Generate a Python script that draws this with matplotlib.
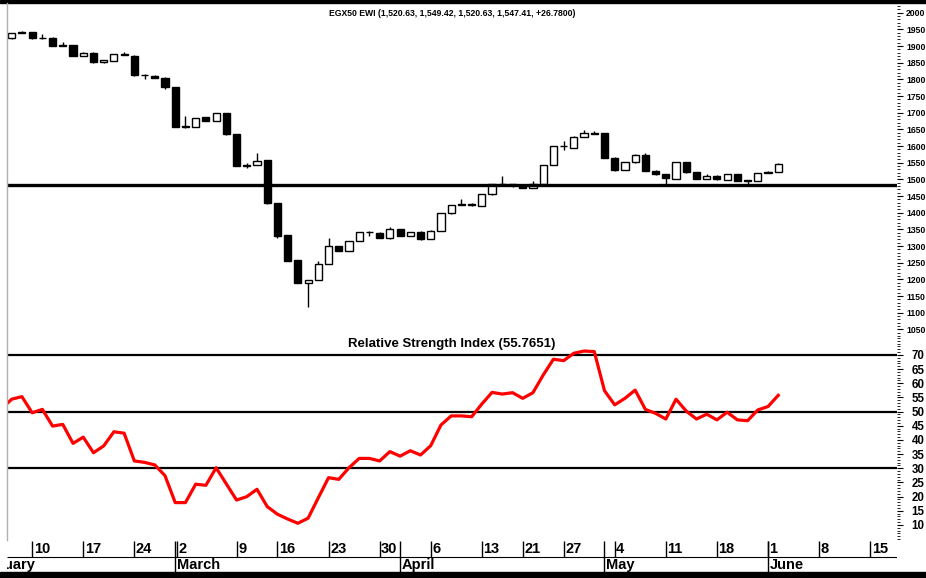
import matplotlib
matplotlib.use('Agg')
import matplotlib.pyplot as plt
import numpy as np
from matplotlib.lines import Line2D
from matplotlib.patches import Rectangle

plt.rcParams['font.family'] = ['Liberation Sans', 'DejaVu Sans']

# daily candles, 6 Feb 2020 -> 2 Jun 2020 (EGX trading days)
opens = [1923, 1939, 1942, 1925, 1925, 1902, 1903, 1871, 1880, 1851, 1855, 1873, 1871, 1814, 1811, 1805,
         1776, 1660, 1658, 1686, 1675, 1698, 1635, 1542, 1543, 1558, 1428, 1332, 1258, 1190, 1198, 1246,
         1300, 1285, 1315, 1343, 1340, 1323, 1351, 1331, 1343, 1321, 1346, 1398, 1424, 1425, 1421, 1455,
         1484, 1486, 1484, 1475, 1486, 1543, 1601, 1595, 1628, 1637, 1638, 1565, 1528, 1551, 1573, 1526,
         1515, 1501, 1551, 1521, 1501, 1510, 1498, 1515, 1497, 1495, 1519, 1520.63]
highs = [1940, 1946, 1943, 1935, 1926, 1911, 1904, 1881, 1881, 1859, 1876, 1883, 1872, 1815, 1813, 1806,
         1777, 1690, 1685, 1687, 1700, 1699, 1636, 1548, 1578, 1559, 1429, 1333, 1259, 1199, 1256, 1324,
         1301, 1316, 1342, 1346, 1341, 1358, 1352, 1343, 1344, 1347, 1399, 1424, 1440, 1429, 1456, 1486,
         1509, 1487, 1486, 1494, 1544, 1601, 1616, 1629, 1648, 1645, 1640, 1566, 1553, 1575, 1580, 1528,
         1516, 1552, 1553, 1522, 1516, 1512, 1517, 1516, 1498, 1519, 1524, 1549.42]
lows = [1921, 1938, 1920, 1922, 1900, 1899, 1869, 1870, 1849, 1850, 1854, 1872, 1811, 1800, 1803, 1770,
        1656, 1655, 1656, 1674, 1674, 1633, 1539, 1535, 1542, 1426, 1323, 1254, 1188, 1118, 1197, 1245,
        1284, 1284, 1314, 1330, 1324, 1322, 1330, 1330, 1319, 1320, 1345, 1397, 1423, 1419, 1420, 1454,
        1483, 1477, 1474, 1474, 1485, 1542, 1588, 1594, 1627, 1636, 1564, 1526, 1527, 1550, 1525, 1512,
        1486, 1500, 1520, 1500, 1500, 1499, 1497, 1494, 1486, 1494, 1518, 1520.63]
closes = [1938, 1943, 1923, 1923, 1901, 1900, 1871, 1880, 1851, 1858, 1875, 1876, 1813, 1812, 1805, 1776,
          1658, 1658, 1683, 1676, 1698, 1635, 1541, 1540, 1556, 1428, 1330, 1256, 1190, 1198, 1246, 1300,
          1285, 1315, 1341, 1342, 1325, 1352, 1331, 1342, 1321, 1346, 1398, 1423, 1426, 1423, 1455, 1485,
          1487, 1484, 1475, 1486, 1543, 1600, 1599, 1628, 1638, 1639, 1565, 1528, 1551, 1573, 1526, 1515,
          1503, 1551, 1522, 1501, 1510, 1501, 1515, 1496, 1496, 1518, 1521, 1547.41]

# RSI, first value belongs to the day before the first candle
rsi = [51.0, 54.4, 55.3, 49.6, 50.8, 44.9, 45.5, 38.8, 41.0, 35.5, 37.9, 42.9, 42.4, 32.6, 32.1, 31.2,
       27.4, 17.9, 17.9, 24.4, 24.0, 30.2, 24.5, 18.8, 20.0, 22.6, 16.5, 13.8, 12.1, 10.6, 12.4, 19.6,
       26.7, 26.1, 30.2, 33.5, 33.5, 32.6, 35.9, 34.3, 36.2, 34.7, 38.0, 45.3, 48.5, 48.5, 48.2, 52.7,
       56.8, 56.2, 56.7, 54.7, 56.7, 62.9, 68.5, 68.0, 70.6, 71.4, 71.2, 57.4, 52.4, 54.7, 57.6, 50.8,
       49.4, 47.4, 54.4, 50.2, 47.4, 49.1, 47.1, 49.8, 47.1, 46.8, 50.6, 51.8, 55.7651]

support = 1483
rsi_levels = [70, 50, 30]

week_labels = ['10', '17', '24', '2', '9', '16', '23', '30', '6', '13', '21', '27', '4', '11', '18', '1', '8', '15']
week_pos = [2, 7, 12, 16.2, 22, 26, 31, 36, 41, 46, 50, 54, 59, 64, 69, 74, 79, 84]
month_labels = ['February', 'March', 'April', 'May', 'June']
month_pos = [-4, 16, 38, 58, 74]

title = 'EGX50 EWI (1,520.63, 1,549.42, 1,520.63, 1,547.41, +26.7800)'
rsi_title = 'Relative Strength Index (55.7651)'

W, H = 926, 578
fig = plt.figure(figsize=(W / 100, H / 100), dpi=100)


def box(x0, y0, x1, y1):
    return [x0 / W, 1 - y1 / H, (x1 - x0) / W, (y1 - y0) / H]


xlim = (-0.46, 86.62)
ax = fig.add_axes(box(7, 4, 897, 336))
ax_r = fig.add_axes(box(7, 336, 897, 540))
ax_d = fig.add_axes(box(7, 540, 897, 572))

# candles
o = np.array(opens)
h = np.array(highs)
l = np.array(lows)
c = np.array(closes)
x = np.arange(len(o))
up = c >= o
ax.vlines(x, l, h, color='black', lw=1, zorder=2)
ax.bar(x, np.maximum(np.abs(c - o), 1.5), bottom=np.minimum(o, c), width=0.7,
       color=np.where(up, 'white', 'black'), edgecolor='black', linewidth=1, zorder=3)
ax.axhline(support, color='black', lw=2.4, zorder=4)

ax.set_xlim(*xlim)
ax.set_ylim(1030, 2026)
ax.yaxis.tick_right()
ax.set_yticks(np.arange(1050, 2001, 50))
ax.set_yticks(np.arange(1030, 2027, 10), minor=True)
ax.tick_params(axis='y', which='major', length=4, width=0.8, pad=2.5, labelsize=6.2)
ax.tick_params(axis='y', which='minor', length=2.5, width=0.6)
ax.set_xticks([])
for t in ax.get_yticklabels():
    t.set_fontweight('bold')
for s in ax.spines.values():
    s.set_visible(False)

# RSI
ax_r.plot(np.arange(-1, len(rsi) - 1), rsi, color='#ff0000', lw=2.3, zorder=3)
for lev in rsi_levels:
    ax_r.axhline(lev, color='black', lw=1.6, zorder=2)
ax_r.set_xlim(*xlim)
ax_r.set_ylim(4.7, 76.7)
ax_r.yaxis.tick_right()
ax_r.set_yticks(np.arange(10, 71, 5))
ax_r.set_yticks(np.arange(5, 77, 1), minor=True)
ax_r.tick_params(axis='y', which='major', length=4, width=0.8, pad=6.5, labelsize=8.3)
ax_r.tick_params(axis='y', which='minor', length=2.5, width=0.6)
ax_r.set_xticks([])
for t in ax_r.get_yticklabels():
    t.set_fontweight('bold')
for s in ax_r.spines.values():
    s.set_visible(False)

# date rows
ax_d.set_xlim(*xlim)
ax_d.set_ylim(32, 0)
ax_d.axis('off')
ax_d.hlines(17, xlim[0], xlim[1], color='black', lw=0.8)
ax_d.vlines(week_pos, 1, 17, color='black', lw=1)
ax_d.vlines(month_pos, 1, 32, color='black', lw=1)
for lab, p in zip(week_labels, week_pos):
    ax_d.text(p + 0.15, 9.3, lab, fontsize=10.5, fontweight='bold', ha='left', va='center', clip_on=True)
for lab, p in zip(month_labels, month_pos):
    ax_d.text(p + 0.15, 24.8, lab, fontsize=10.5, fontweight='bold', ha='left', va='center', clip_on=True)

# titles and frame
fig.text(452 / W, 1 - 13 / H, title, fontsize=6.2, fontweight='bold', ha='center', va='center')
fig.text(452 / W, 1 - 344.5 / H, rsi_title, fontsize=9.5, fontweight='bold', ha='center', va='center')
fig.add_artist(Rectangle((0, 1 - 3.3 / H), 1, 3.3 / H, transform=fig.transFigure, color='black'))
fig.add_artist(Rectangle((0, 0), 1, 6 / H, transform=fig.transFigure, color='black'))
fig.add_artist(Line2D([7 / W, 7 / W], [1 - 540 / H, 1 - 3.3 / H], transform=fig.transFigure,
                      color='#b0b0b0', lw=1))

fig.savefig('out.png', dpi=100)
